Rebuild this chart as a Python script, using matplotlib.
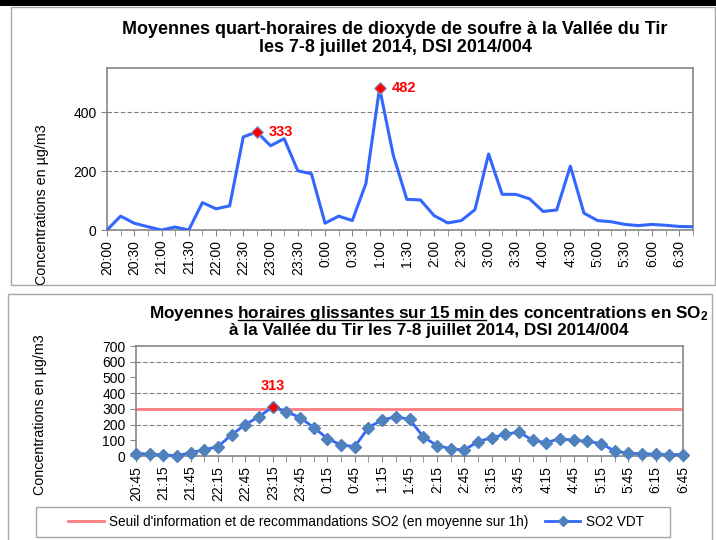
import numpy as np
import matplotlib
matplotlib.use("Agg")
import matplotlib.pyplot as plt
from matplotlib.patches import Rectangle
from matplotlib.lines import Line2D

plt.rcParams['font.family'] = ['Liberation Sans', 'DejaVu Sans']
plt.rcParams['mathtext.fontset'] = 'custom'
plt.rcParams['mathtext.rm'] = 'Liberation Sans:bold'
plt.rcParams['mathtext.default'] = 'rm'

# --- data: quarter-hourly averages (top chart) ---
quart_labels = ["20:00", "20:15", "20:30", "20:45", "21:00", "21:15", "21:30", "21:45",
                "22:00", "22:15", "22:30", "22:45", "23:00", "23:15", "23:30", "23:45",
                "0:00", "0:15", "0:30", "0:45", "1:00", "1:15", "1:30", "1:45",
                "2:00", "2:15", "2:30", "2:45", "3:00", "3:15", "3:30", "3:45",
                "4:00", "4:15", "4:30", "4:45", "5:00", "5:15", "5:30", "5:45",
                "6:00", "6:15", "6:30", "6:45"]
quart_values = [0, 47, 23, 11, 0, 10, 0, 93,
                72, 82, 316, 333, 286, 310, 201, 191,
                23, 47, 32, 158, 482, 255, 104, 102,
                49, 24, 32, 69, 258, 121, 121, 106,
                63, 68, 217, 57, 32, 28, 19, 15,
                19, 16, 12, 11]

# --- data: sliding hourly averages (bottom chart) ---
slide_labels = ["20:45", "21:00", "21:15", "21:30", "21:45", "22:00", "22:15", "22:30",
                "22:45", "23:00", "23:15", "23:30", "23:45", "0:00", "0:15", "0:30",
                "0:45", "1:00", "1:15", "1:30", "1:45", "2:00", "2:15", "2:30",
                "2:45", "3:00", "3:15", "3:30", "3:45", "4:00", "4:15", "4:30",
                "4:45", "5:00", "5:15", "5:30", "5:45", "6:00", "6:15", "6:30", "6:45"]
slide_values = [15, 13, 6, 2, 21, 40, 60, 136,
                200, 251, 313, 281, 245, 181, 111, 70,
                60, 181, 230, 249, 234, 123, 66, 47,
                38, 91, 117, 138, 153, 100, 85, 111,
                100, 94, 79, 32, 17, 15, 11, 9, 9]
seuil = 300

W, H = 716, 540
fig = plt.figure(figsize=(W / 100, H / 100), dpi=100)

def fx(px):
    return px / W

def fy(py):
    return 1 - py / H

# panel frames and top black bar
fig.patches.append(Rectangle((0, fy(6)), 1, 6 / H, transform=fig.transFigure,
                             facecolor='black', edgecolor='none'))
fig.patches.append(Rectangle((fx(11), fy(285)), fx(704), 278 / H, transform=fig.transFigure,
                             facecolor='none', edgecolor='#a6a6a6', lw=1))
fig.patches.append(Rectangle((fx(8), fy(560)), fx(704), 266 / H, transform=fig.transFigure,
                             facecolor='none', edgecolor='#a6a6a6', lw=1))

grey = '#868686'
blue = '#3366ff'

# ---------------- top chart ----------------
ax1 = fig.add_axes([fx(107), fy(230), fx(693 - 107), (230 - 68) / H])
x1 = np.arange(len(quart_values))
ax1.plot(x1, quart_values, color=blue, lw=2.2, zorder=3)
for i in [int(np.argmax(quart_values)), 11]:
    ax1.plot(x1[i], quart_values[i], marker='D', ms=6, mfc='red', mec='#7f9fcf',
             mew=0.8, zorder=4, clip_on=False)
    ax1.text(x1[i] + 0.9, quart_values[i], str(quart_values[i]), color='red',
             fontsize=10.5, fontweight='bold', va='center', ha='left')
ax1.set_xlim(0, len(quart_values) - 1)
ax1.set_ylim(0, 550)
ax1.set_yticks([0, 200, 400])
for g in [200, 400]:
    ax1.axhline(g, color='#7f7f7f', lw=0.8, ls=(0, (4, 2)), zorder=1)
ax1.set_xticks(x1[::2])
ax1.set_xticklabels(quart_labels[::2], rotation=90)
ax1.set_xticks(x1, minor=True)
ax1.set_ylabel("Concentrations en µg/m3", fontsize=10.3, va='center')
ax1.yaxis.set_label_coords((42 - 107) / 586, (230 - 205) / 162)
fig.text(fx(395), fy(30), "Moyennes quart-horaires de dioxyde de soufre à la Vallée du Tir",
         fontsize=12.9, fontweight='bold', ha='center', va='center')
fig.text(fx(395), fy(48), "les 7-8 juillet 2014, DSI 2014/004",
         fontsize=12.9, fontweight='bold', ha='center', va='center')

# ---------------- bottom chart ----------------
ax2 = fig.add_axes([fx(136), fy(456), fx(683 - 136), (456 - 346) / H])
x2 = np.arange(len(slide_values))
ax2.axhline(seuil, color='#ff7c80', lw=2, zorder=2)
ax2.plot(x2, slide_values, color=blue, lw=2, marker='D', ms=6, mfc='#4f81bd',
         mec='#4f81bd', zorder=3, clip_on=False)
ipk = int(np.argmax(slide_values))
ax2.plot(x2[ipk], slide_values[ipk], marker='D', ms=4, mfc='red', mec='red', zorder=4)
ax2.text(x2[ipk], slide_values[ipk] + 90, str(slide_values[ipk]), color='red',
         fontsize=10.5, fontweight='bold', ha='center', va='bottom')
ax2.set_xlim(0, len(slide_values) - 1)
ax2.set_ylim(0, 700)
ax2.set_yticks(np.arange(0, 701, 100))
for g in [200, 400, 600]:
    ax2.axhline(g, color='#7f7f7f', lw=0.8, ls=(0, (4, 2)), zorder=1)
ax2.set_xticks(x2[::2])
ax2.set_xticklabels(slide_labels[::2], rotation=90)
ax2.set_xticks(x2, minor=True)
ax2.set_ylabel("Concentrations en µg/m3", fontsize=10.3, va='center')
ax2.yaxis.set_label_coords((40 - 136) / 547, (456 - 415) / 110)

for ax in (ax1, ax2):
    for s in ax.spines.values():
        s.set_color(grey)
        s.set_linewidth(1.2)
    ax.tick_params(axis='both', which='both', color=grey, labelsize=10, length=4)
    ax.tick_params(axis='x', which='major', pad=3)

# bottom title with underlined part
line1a = "Moyennes "
line1b = "horaires glissantes sur 15 min"
line1c = " des concentrations en SO$_2$"
tx = fx(429)
tkw = dict(fontsize=12.3, fontweight='bold', transform=fig.transFigure)
t_full = fig.text(tx, fy(318), line1a + line1b + line1c, ha='center', va='baseline', **tkw)
fig.text(tx, fy(330), "à la Vallée du Tir les 7-8 juillet 2014, DSI 2014/004",
         ha='center', va='center', **tkw)
fig.canvas.draw()
r = fig.canvas.get_renderer()
bb = t_full.get_window_extent(r)
tmp_a = fig.text(0, 0, line1a, va='baseline', **tkw)
tmp_b = fig.text(0, 0, line1a + line1b, va='baseline', **tkw)
wa = tmp_a.get_window_extent(r).width
wb = tmp_b.get_window_extent(r).width
tmp_a.remove()
tmp_b.remove()
uy = fy(320)
fig.add_artist(Line2D([(bb.x0 + wa) / W, (bb.x0 + wb) / W], [uy, uy],
                      transform=fig.transFigure, color='black', lw=1))

# legend (frame drawn separately)
handles = [Line2D([], [], color='#ff7c80', lw=2),
           Line2D([], [], color=blue, lw=2, marker='D', ms=5, mfc='#4f81bd', mec='#4f81bd')]
fig.legend(handles, ["Seuil d'information et de recommandations SO2 (en moyenne sur 1h)",
                     "SO2 VDT"],
           loc='center', bbox_to_anchor=(fx(356), fy(522)), ncol=2, fontsize=9.8,
           frameon=False, handlelength=2.6, handletextpad=0.4, columnspacing=1.2)
fig.patches.append(Rectangle((fx(36), fy(537)), fx(634), 30 / H, transform=fig.transFigure,
                             facecolor='none', edgecolor='#a6a6a6', lw=1))

fig.savefig("out.png", dpi=100)
